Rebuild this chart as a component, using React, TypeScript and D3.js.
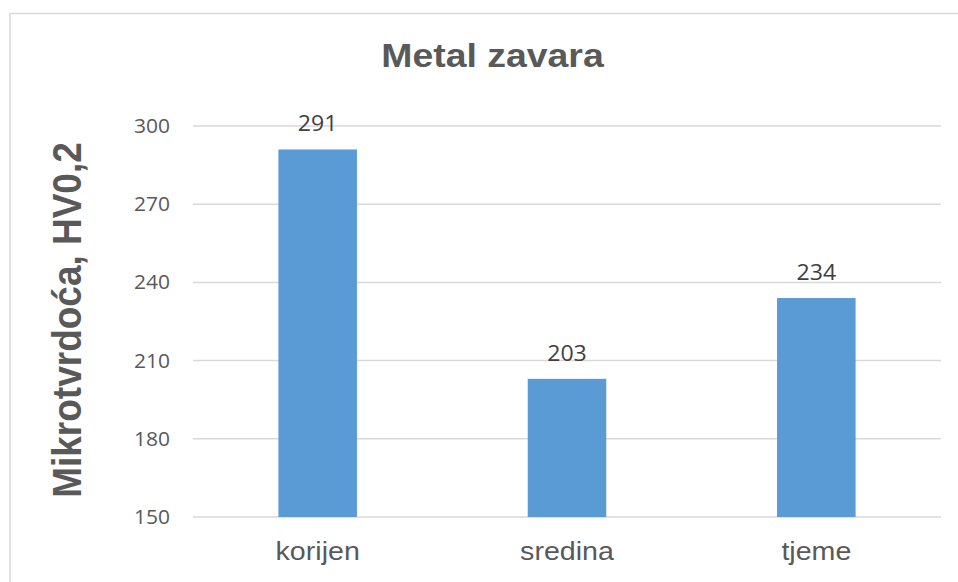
import React from "react";
import * as d3 from "d3";

const categories: string[] = ["korijen", "sredina", "tjeme"];
const values: number[] = [291, 203, 234];
const yTicks: number[] = [150, 180, 210, 240, 270, 300];
const titleText = "Metal zavara";
const yAxisTitle = "Mikrotvrdoća, HV0,2";

const W = 958;
const H = 582;
const plot = { left: 193, right: 941, top: 126, bottom: 517 };
const SX = 1.1;

export default function App() {
  const x = d3
    .scaleBand<string>()
    .domain(categories)
    .range([plot.left, plot.right])
    .paddingInner(0.685)
    .paddingOuter(0.3425);
  const y = d3.scaleLinear().domain([150, 300]).range([plot.bottom, plot.top]);

  const grey = "#595959";
  return (
    <svg
      width={W}
      height={H}
      style={{ position: "absolute", left: 0, top: 0, background: "#fff" }}
    >
      <rect x={0} y={0} width={W} height={H} fill="#fff" />
      <rect
        x={10}
        y={13.5}
        width={W + 20}
        height={H + 20}
        fill="#fff"
        stroke="#d9d9d9"
        strokeWidth={1.5}
      />
      {/* title */}
      <g transform={`translate(${492.5},67) scale(${SX},1)`}>
        <text
          textAnchor="middle"
          fontFamily="'Liberation Sans', Arial, sans-serif"
          fontWeight="bold"
          fontSize={34}
          fill={grey}
        >
          {titleText}
        </text>
      </g>
      {/* y axis title */}
      <g transform={`translate(81,320) scale(${SX},1) rotate(-90)`}>
        <text
          textAnchor="middle"
          fontFamily="'Liberation Sans', Arial, sans-serif"
          fontWeight="bold"
          fontSize={37}
          fill={grey}
        >
          {yAxisTitle}
        </text>
      </g>
      {/* gridlines + tick labels */}
      {yTicks.map((t) => (
        <g key={t}>
          <line
            x1={plot.left}
            x2={plot.right}
            y1={y(t)}
            y2={y(t)}
            stroke="#d9d9d9"
            strokeWidth={1.5}
          />
          <g transform={`translate(170,${y(t) + 7}) scale(1.05,1)`}>
            <text
              textAnchor="end"
              fontFamily="'Open Sans', sans-serif"
              fontSize={20}
              fill={grey}
            >
              {t}
            </text>
          </g>
        </g>
      ))}
      {/* bars */}
      {categories.map((c, i) => (
        <rect
          key={c}
          x={x(c)!}
          y={y(values[i])}
          width={x.bandwidth()}
          height={y(150) - y(values[i])}
          fill="#5B9BD5"
        />
      ))}
      {/* data labels */}
      {categories.map((c, i) => (
        <g
          key={c + "l"}
          transform={`translate(${x(c)! + x.bandwidth() / 2},${y(values[i]) - 18}) scale(1.05,1)`}
        >
          <text
            textAnchor="middle"
            fontFamily="'Open Sans', sans-serif"
            fontSize={22}
            fill="#404040"
          >
            {values[i]}
          </text>
        </g>
      ))}
      {/* category labels */}
      {categories.map((c) => (
        <g
          key={c + "c"}
          transform={`translate(${x(c)! + x.bandwidth() / 2},560) scale(${SX},1)`}
        >
          <text
            textAnchor="middle"
            fontFamily="'Liberation Sans', Arial, sans-serif"
            fontSize={26}
            fill={grey}
          >
            {c}
          </text>
        </g>
      ))}
    </svg>
  );
}
